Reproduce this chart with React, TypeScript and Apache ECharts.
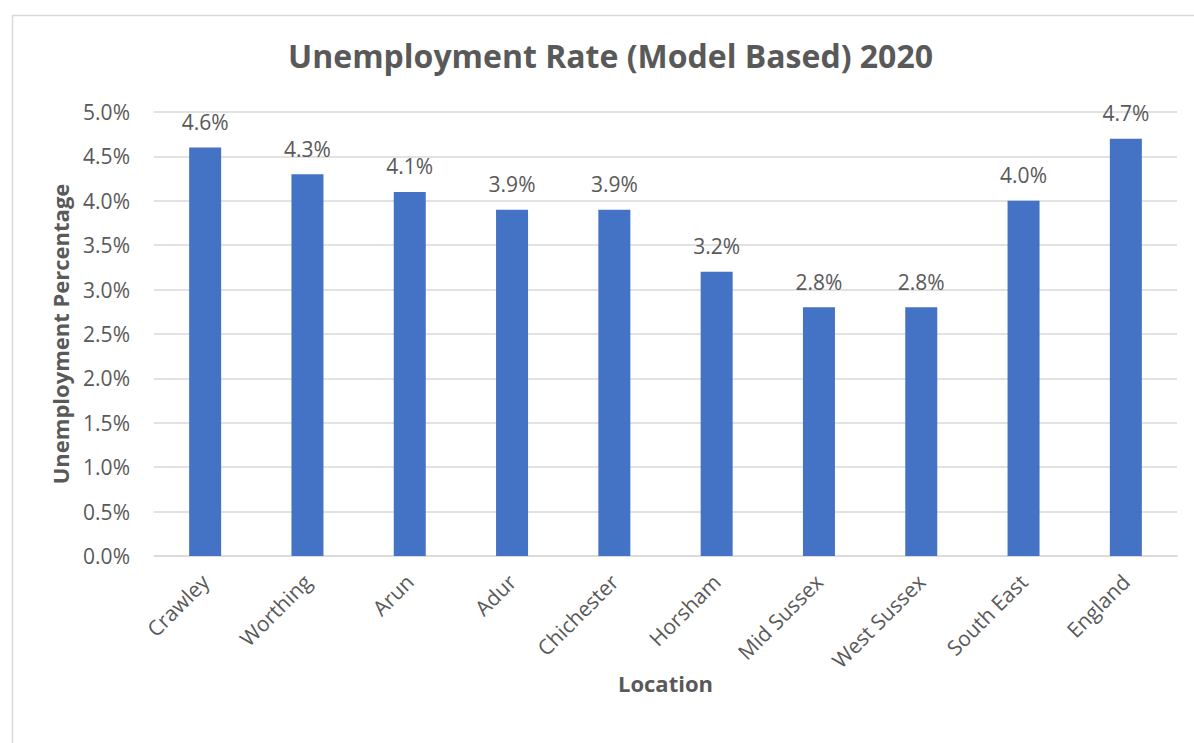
import React, { useEffect, useRef } from "react";
import * as echarts from "echarts";

const categories = ["Crawley", "Worthing", "Arun", "Adur", "Chichester", "Horsham", "Mid Sussex", "West Sussex", "South East", "England"];
const rates = [4.6, 4.3, 4.1, 3.9, 3.9, 3.2, 2.8, 2.8, 4.0, 4.7];
const yMin = 0;
const yMax = 5;
const yStep = 0.5;
const titleText = "Unemployment Rate (Model Based) 2020";
const yAxisTitle = "Unemployment Percentage";
const xAxisTitle = "Location";

const FONT = "'Open Sans', Lato, sans-serif";
const TXT = "#595959";

export default function App() {
  const ref = useRef<HTMLDivElement>(null);
  useEffect(() => {
    if (!ref.current) return;
    const chart = echarts.init(ref.current, undefined, { renderer: "svg" });
    chart.setOption({
      animation: false,
      backgroundColor: "#ffffff",
      textStyle: { fontFamily: FONT },
      title: {
        text: titleText,
        left: 283,
        top: 34,
        textStyle: { fontFamily: FONT, fontSize: 32, fontWeight: "bold", color: TXT },
      },
      graphic: [
        {
          type: "rect",
          left: 10,
          top: 13,
          shape: { width: 1200, height: 800 },
          style: { fill: "none", stroke: "#d9d9d9", lineWidth: 1.5 },
          silent: true,
        },
      ],
      grid: { left: 154, right: 17, top: 112, bottom: 187, containLabel: false },
      xAxis: {
        type: "category",
        data: categories,
        name: xAxisTitle,
        nameLocation: "middle",
        nameGap: 116,
        nameMoveOverlap: false,
        nameTextStyle: { fontFamily: FONT, fontSize: 22, fontWeight: "bold", color: TXT },
        axisLine: { show: true, lineStyle: { color: "#d9d9d9", width: 1.5 } },
        axisTick: { show: false },
        axisLabel: { rotate: 45, fontSize: 21, color: TXT, fontFamily: FONT, margin: 22, interval: 0 },
      },
      yAxis: {
        type: "value",
        min: yMin,
        max: yMax,
        interval: yStep,
        name: yAxisTitle,
        nameLocation: "middle",
        nameGap: 83,
        nameRotate: 90,
        nameTextStyle: { fontFamily: FONT, fontSize: 22, fontWeight: "bold", color: TXT },
        axisLine: { show: false },
        axisTick: { show: false },
        splitLine: { lineStyle: { color: "#d9d9d9", width: 1.5 } },
        axisLabel: {
          fontSize: 21,
          color: TXT,
          fontFamily: FONT,
          margin: 24,
          formatter: (v: number) => v.toFixed(1) + "%",
        },
      },
      series: [
        {
          type: "bar",
          data: rates,
          barWidth: 32,
          itemStyle: { color: "#4472c4" },
          label: {
            show: true,
            position: "top",
            distance: 15,
            fontSize: 21,
            color: TXT,
            fontFamily: FONT,
            formatter: (p: any) => Number(p.value).toFixed(1) + "%",
          },
        },
      ],
    });
    return () => chart.dispose();
  }, []);
  return (
    <div
      ref={ref}
      style={{ position: "absolute", left: 0, top: 0, width: 1194, height: 743 }}
    />
  );
}
